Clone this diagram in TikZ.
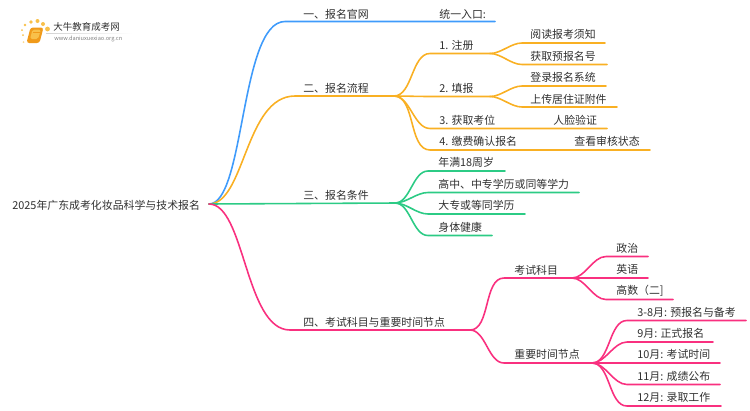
\documentclass[tikz,border=0pt]{standalone}
\usepackage{fontspec}
\setmainfont{Noto Sans CJK SC}
\usepackage{xcolor}
\definecolor{bluebr}{HTML}{3F9BFB}
\definecolor{orangebr}{HTML}{F9B023}
\definecolor{greenbr}{HTML}{2CCB85}
\definecolor{pinkbr}{HTML}{F9307F}
\definecolor{txtgray}{HTML}{303030}
\definecolor{bookor}{HTML}{F09A1A}
\definecolor{sundot}{HTML}{F8C04A}
\tikzset{
  lab/.style={anchor=west,inner sep=0pt,text=txtgray,font=\fontsize{6.2pt}{8pt}\selectfont},
  br/.style={line width=0.9pt,line cap=round},
  sbend/.style={out=0,in=180,looseness=0.85}
}
\begin{document}
\begin{tikzpicture}[x=0.02cm,y=-0.02cm]
  \useasboundingbox (0,0) rectangle (750,410);
  % logo
  \foreach \x/\y/\s in {22/30/1,23/35/1,25/25/1.3,31/22/1.8,37.5/21/2,43/24/2,47.5/29/2.4}
    \fill[sundot] (\x,\y) circle (\s);
  \fill[sundot!60] (23.5,42) circle (1);
  \fill[bookor,rounded corners=1.5pt] (30.5,27.5) -- (43.5,27.5) -- (39.5,43) -- (26.5,43) -- cycle;
  \fill[sundot,rounded corners=1pt] (32.5,29.5) -- (41,29.5) -- (38,39) -- (30,39) -- cycle;
  \draw[bookor,line width=0.4pt] (33,32.5) -- (39.5,32.5);
  \node[lab,font=\fontsize{5.4pt}{8pt}\selectfont] (logoname) at (53,27) {大牛教育成考网};
  \shade[left color=gray!35,right color=white] (46,33) rectangle (132,33.5);
  \node[lab,font=\fontsize{3.2pt}{5pt}\selectfont,text=gray] (logourl) at (54,38.5) {www.daniuxuexiao.org.cn};

  \node[lab] (root) at (12,205) {2025年广东成考化妆品科学与技术报名};
  \coordinate (hub) at (209,204);

  % first level
  \node[lab] (guanwang) at (303,14) {一、报名官网};
  \node[lab] (rukou) at (439,14) {统一入口:};
  \coordinate (guanwangl) at (285,21.5);
  \coordinate (guanwange) at (495,21.5);
  \draw[br,bluebr] (hub) .. controls (245,204) and (240,21.5) .. (guanwangl) -- (guanwange);

  \node[lab] (liucheng) at (303,88) {二、报名流程};
  \coordinate (liuchengl) at (295,96);
  \coordinate (liuchenge) at (394,96);
  \draw[br,orangebr] (hub) .. controls (245,204) and (245,96) .. (liuchengl) -- (liuchenge);

  \node[lab] (tiaojian) at (303,195) {三、报名条件};
  \coordinate (tiaojiane) at (395,203);
  \draw[br,greenbr] (hub) -- (tiaojiane);

  \node[lab] (kemu) at (303,322) {四、考试科目与重要时间节点};
  \coordinate (kemul) at (290,330);
  \coordinate (kemue) at (470,330);
  \draw[br,pinkbr] (hub) .. controls (245,204) and (245,330) .. (kemul) -- (kemue);

  % orange second level
  \foreach \n/\t/\y/\xe/\xt/\yt in {
    zhuce/{1. 注册}/53.5/490/439/45,
    tianbao/{2. 填报}/96.5/490/439/88,
    kaowei/{3. 获取考位}/128.5/607/439/120,
    jiaofei/{4. 缴费确认报名}/150/650/439/141}{
    \node[lab] (\n) at (\xt,\yt) {\t};
    \coordinate (\n l) at (430,\y);
    \coordinate (\n e) at (\xe,\y);
    \draw[br,orangebr] (liuchenge) to[sbend] (\n l) -- (\n e);
  }
  \node[lab] (renlian) at (553,120) {人脸验证};
  \node[lab] (chakan) at (574,141) {查看审核状态};

  \foreach \n/\t/\p/\y/\xe/\yt in {
    xuzhi/阅读报考须知/zhucee/43/605/34,
    yuhao/获取预报名号/zhucee/64.5/607/56,
    denglu/登录报名系统/tianbaoe/86/606/77,
    juzhu/上传居住证附件/tianbaoe/107/617/99}{
    \node[lab] (\n) at (530,\yt) {\t};
    \coordinate (\n l) at (522,\y);
    \coordinate (\n e) at (\xe,\y);
    \draw[br,orangebr] (\p) to[sbend] (\n l) -- (\n e);
  }

  % green
  \foreach \n/\t/\y/\xe/\yt in {
    nianman/年满18周岁/171/505/162,
    xueli/高中、中专学历或同等学力/192.5/579/184,
    dazhuan/大专或等同学历/214/525/205,
    jiankang/身体健康/235.5/492/227}{
    \node[lab] (\n) at (438,\yt) {\t};
    \coordinate (\n l) at (428,\y);
    \coordinate (\n e) at (\xe,\y);
    \draw[br,greenbr] (tiaojiane) to[sbend] (\n l) -- (\n e);
  }

  % pink
  \foreach \n/\t/\y/\xe/\xl/\yt in {
    kaoshi/考试科目/278/572/504/270,
    shijian/重要时间节点/363/592/504/354}{
    \node[lab] (\n) at (514,\yt) {\t};
    \coordinate (\n l) at (\xl,\y);
    \coordinate (\n e) at (\xe,\y);
    \draw[br,pinkbr] (kemue) to[sbend] (\n l) -- (\n e);
  }
  \foreach \n/\t/\y/\xe/\yt in {
    zhengzhi/政治/256.5/648/248,
    yingyu/英语/278/648/269,
    gaoshu/高数（二]/299.5/673/291}{
    \node[lab] (\n) at (616,\yt) {\t};
    \coordinate (\n l) at (606,\y);
    \coordinate (\n e) at (\xe,\y);
    \draw[br,pinkbr] (kaoshie) to[sbend] (\n l) -- (\n e);
  }
  \foreach \n/\t/\y/\xe/\yt in {
    yue1/{3-8月: 预报名与备考}/320.5/746/312,
    yue2/{9月: 正式报名}/342/713/333,
    yue3/{10月: 考试时间}/363/720/354,
    yue4/{11月: 成绩公布}/384.5/720/376,
    yue5/{12月: 录取工作}/406/721/397}{
    \node[lab] (\n) at (637,\yt) {\t};
    \coordinate (\n l) at (627,\y);
    \coordinate (\n e) at (\xe,\y);
    \draw[br,pinkbr] (shijiane) to[sbend] (\n l) -- (\n e);
  }
\end{tikzpicture}
\end{document}
